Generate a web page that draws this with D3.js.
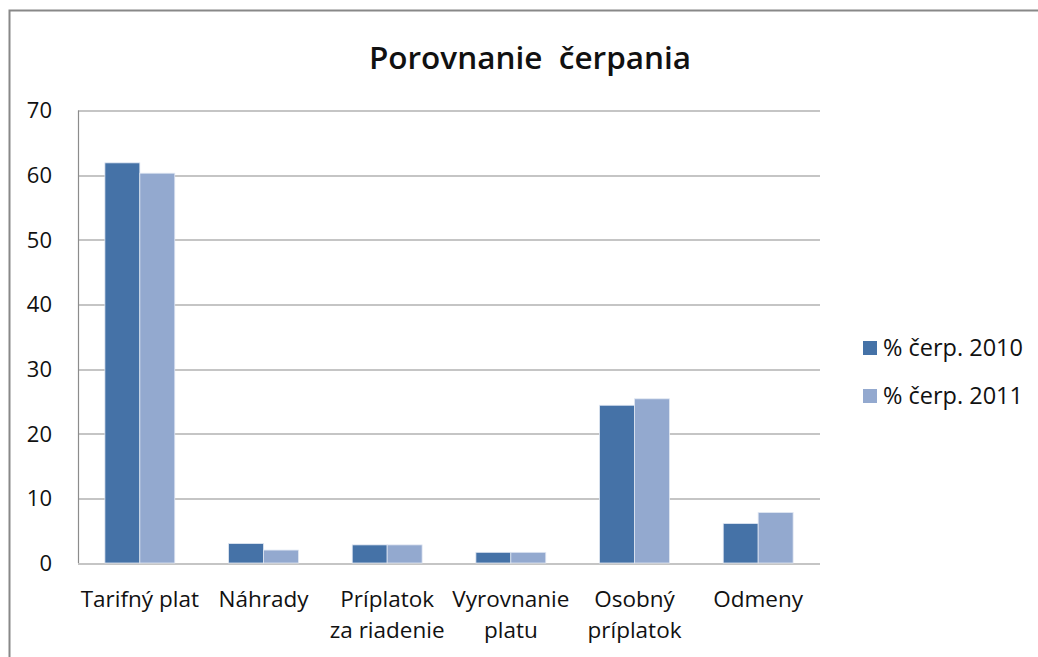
<!DOCTYPE html>
<html>
<head>
<meta charset="utf-8">
<script src="https://cdn.jsdelivr.net/npm/d3@7"></script>
<style>
  body { margin: 0; background: #fff; }
  text { font-family: "Open Sans", "Noto Sans", sans-serif; fill: #111; }
</style>
</head>
<body>
<div class="chart"></div>
<script>
// data
var categories = [["Tarifný plat"], ["Náhrady"], ["Príplatok", "za riadenie"], ["Vyrovnanie", "platu"], ["Osobný", "príplatok"], ["Odmeny"]];
var seriesNames = ["% čerp. 2010", "% čerp. 2011"];
var values2010 = [61.9, 3.0, 2.8, 1.65, 24.4, 6.1];
var values2011 = [60.3, 2.0, 2.8, 1.65, 25.4, 7.8];
var yTicks = [0, 10, 20, 30, 40, 50, 60, 70];
var colors = ["#4572A7", "#93A9CF"];

var svgWidth = 1038;
var svgHeight = 657;
var margin = {top: 110.5, right: 218, bottom: 94, left: 78};
var width = svgWidth - margin.left - margin.right;
var height = svgHeight - margin.top - margin.bottom;

var svg = d3.select(".chart")
  .append("svg")
  .attr("width", svgWidth)
  .attr("height", svgHeight);

// outer frame (only top and left visible)
svg.append("rect")
  .attr("x", 9.5).attr("y", 10.5)
  .attr("width", 1100).attr("height", 800)
  .attr("fill", "none").attr("stroke", "#888").attr("stroke-width", 2);

svg.append("text")
  .attr("x", 530).attr("y", 69)
  .attr("text-anchor", "middle")
  .attr("font-size", "31.5px").attr("font-weight", "600")
  .attr("xml:space", "preserve")
  .text("Porovnanie  čerpania");

var chartGroup = svg.append("g")
  .attr("transform", `translate(${margin.left}, ${margin.top})`);

var x0 = d3.scaleBand().domain(d3.range(categories.length)).range([0, width]).paddingInner(0.435).paddingOuter(0.2175);
var x1 = d3.scaleBand().domain([0, 1]).range([0, x0.bandwidth()]);
var y = d3.scaleLinear().domain([0, 70]).range([height, 0]);

// gridlines
chartGroup.selectAll(".grid")
  .data(yTicks)
  .enter()
  .append("line")
  .attr("x1", 0).attr("x2", width)
  .attr("y1", d => Math.round(y(d)) + 0.5).attr("y2", d => Math.round(y(d)) + 0.5)
  .attr("stroke", "#8c8c8c").attr("stroke-width", 1.2);

chartGroup.append("line")
  .attr("x1", 0.5).attr("x2", 0.5).attr("y1", 0).attr("y2", height)
  .attr("stroke", "#8c8c8c").attr("stroke-width", 1.2);

// bars
var series = [values2010, values2011];
series.forEach(function(vals, si) {
  chartGroup.selectAll(".bar" + si)
    .data(vals)
    .enter()
    .append("rect")
    .attr("x", (d, i) => x0(i) + x1(si))
    .attr("y", d => y(d))
    .attr("width", x1.bandwidth())
    .attr("height", d => height - y(d))
    .attr("fill", colors[si])
    .attr("stroke", "#dfe6f2").attr("stroke-width", 0.8);
});

// y labels
chartGroup.selectAll(".ylab")
  .data(yTicks)
  .enter()
  .append("text")
  .attr("x", -26).attr("y", d => y(d))
  .attr("dy", "0.36em")
  .attr("text-anchor", "end")
  .attr("font-size", "22px")
  .text(d => d);

// x labels
categories.forEach(function(lines, i) {
  var t = chartGroup.append("text")
    .attr("text-anchor", "middle")
    .attr("font-size", "22.5px")
    .attr("x", x0(i) + x0.bandwidth() / 2)
    .attr("y", height + 44);
  lines.forEach(function(l, j) {
    t.append("tspan")
      .attr("x", x0(i) + x0.bandwidth() / 2)
      .attr("dy", j === 0 ? 0 : 31)
      .text(l);
  });
});

// legend
var legend = svg.selectAll(".legend")
  .data(seriesNames)
  .enter()
  .append("g")
  .attr("transform", (d, i) => `translate(863, ${341 + i * 48})`);

legend.append("rect")
  .attr("width", 14).attr("height", 14)
  .attr("fill", (d, i) => colors[i]);

legend.append("text")
  .attr("x", 20).attr("y", 7)
  .attr("dy", "0.36em")
  .attr("font-size", "23.5px")
  .text(d => d);
</script>
</body>
</html>
